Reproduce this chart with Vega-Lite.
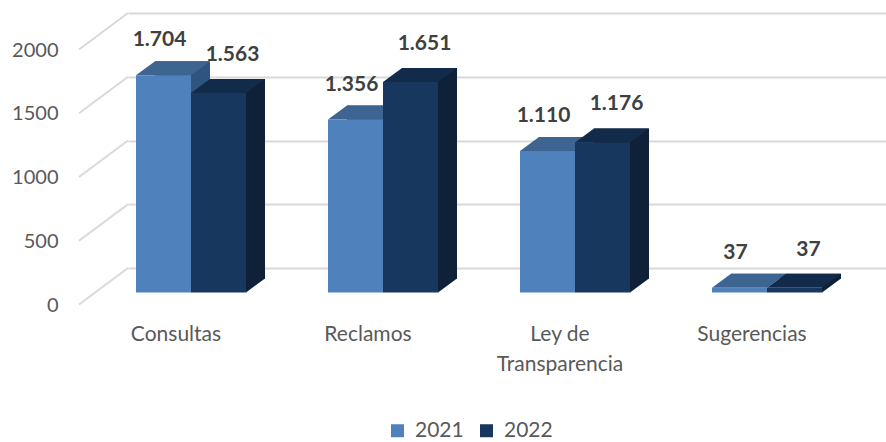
{
  "$schema": "https://vega.github.io/schema/vega-lite/v6.json",
  "width": 758,
  "height": 255,
  "autosize": {"type": "none"},
  "padding": {"left": 128, "top": 13, "right": 0, "bottom": 174},
  "background": "white",
  "config": {
    "view": {"stroke": null},
    "font": "Lato",
    "locale": {"number": {"decimal": ",", "thousands": ".", "grouping": [3], "currency": ["$", ""]}},
    "axisX": {"domain": false, "ticks": false, "grid": false, "labelFontSize": 21, "labelColor": "#595959", "labelPadding": 55, "labelOffset": -15, "labelAngle": 0, "labelLineHeight": 30},
    "axisY": {"domain": false, "ticks": false, "grid": true, "gridColor": "#d9d9d9", "gridWidth": 2, "labelFontSize": 20, "labelColor": "#595959", "labelPadding": 70, "labelOffset": 37}
  },
  "datasets": {
    "bars": [
      {"cat": "Consultas", "year": "2021", "value": 1704},
      {"cat": "Consultas", "year": "2022", "value": 1563},
      {"cat": "Reclamos", "year": "2021", "value": 1356},
      {"cat": "Reclamos", "year": "2022", "value": 1651},
      {"cat": "Ley de Transparencia", "year": "2021", "value": 1110},
      {"cat": "Ley de Transparencia", "year": "2022", "value": 1176},
      {"cat": "Sugerencias", "year": "2021", "value": 37},
      {"cat": "Sugerencias", "year": "2022", "value": 37}
    ],
    "grid": [{"v": 0}, {"v": 500}, {"v": 1000}, {"v": 1500}, {"v": 2000}]
  },
  "data": {"name": "bars"},
  "layer": [
    {
      "data": {"name": "grid"},
      "mark": {"type": "rule", "color": "#d9d9d9", "strokeWidth": 2, "yOffset": 36.5},
      "encoding": {
        "x": {"value": -49},
        "x2": {"value": 0},
        "y": {"field": "v", "type": "quantitative", "title": null, "scale": {"domain": [0, 2000]}, "axis": {"values": [0, 500, 1000, 1500, 2000], "format": "d", "title": null}},
        "y2": {"field": "v"}
      }
    },
    {
      "transform": [{"filter": "datum.year == '2021'"}],
      "mark": {"type": "rect", "color": "#2f5480", "xOffset": 19, "x2Offset": 19, "yOffset": 10.4, "y2Offset": 10.4},
      "encoding": {
        "x": {"field": "cat", "type": "nominal", "sort": null, "bandPosition": 0, "title": null,
              "scale": {"domain": ["Consultas", "Reclamos", "Ley de Transparencia", "Sugerencias"], "paddingInner": 0.42708, "paddingOuter": 0.1875, "align": 0.1111},
              "axis": {"title": null, "labelExpr": "datum.value == 'Ley de Transparencia' ? ['Ley de', 'Transparencia'] : datum.value"}},
        "x2": {"field": "cat", "bandPosition": 0.5},
        "y": {"field": "value", "type": "quantitative", "title": null},
        "y2": {"datum": 0}
      }
    },
    {
      "transform": [{"filter": "datum.year == '2021'"}],
      "mark": {"type": "point", "shape": "M0,0 L55,0 L74,-14 L19,-14 Z", "size": 4, "filled": true, "opacity": 1, "strokeWidth": 0, "color": "#3e6591", "yOffset": 24.4},
      "encoding": {
        "x": {"field": "cat", "type": "nominal", "sort": null, "bandPosition": 0, "title": null},
        "y": {"field": "value", "type": "quantitative", "title": null}
      }
    },
    {
      "transform": [{"filter": "datum.year == '2021'"}],
      "mark": {"type": "rect", "yOffset": 24.4, "y2Offset": 24.4},
      "encoding": {
        "x": {"field": "cat", "type": "nominal", "sort": null, "bandPosition": 0, "title": null},
        "x2": {"field": "cat", "bandPosition": 0.5},
        "y": {"field": "value", "type": "quantitative", "title": null},
        "y2": {"datum": 0},
        "color": {"field": "year", "type": "nominal", "title": null,
                  "scale": {"domain": ["2021", "2022"], "range": ["#4f81bd", "#17375e"]},
                  "legend": {"orient": "none", "legendX": 259, "legendY": 407, "direction": "horizontal", "title": null, "symbolType": "square", "symbolSize": 169, "symbolStrokeWidth": 0, "labelFontSize": 21, "labelColor": "#595959", "columnPadding": 12, "labelOffset": 7, "padding": 0}}
      }
    },
    {
      "transform": [{"filter": "datum.year == '2022'"}],
      "mark": {"type": "rect", "color": "#0f2139", "xOffset": 19, "x2Offset": 19, "yOffset": 10.4, "y2Offset": 10.4},
      "encoding": {
        "x": {"field": "cat", "type": "nominal", "sort": null, "bandPosition": 0.5, "title": null},
        "x2": {"field": "cat", "bandPosition": 1},
        "y": {"field": "value", "type": "quantitative", "title": null},
        "y2": {"datum": 0}
      }
    },
    {
      "transform": [{"filter": "datum.year == '2022'"}],
      "mark": {"type": "point", "shape": "M0,-15.5 L0,0 L19,-14 L19,-15.5 Z", "size": 4, "filled": true, "opacity": 1, "strokeWidth": 0, "color": "#0f2139", "yOffset": 24.4},
      "encoding": {
        "x": {"field": "cat", "type": "nominal", "sort": null, "bandPosition": 1, "title": null},
        "y": {"datum": 0, "type": "quantitative"}
      }
    },
    {
      "transform": [{"filter": "datum.year == '2022'"}],
      "mark": {"type": "point", "shape": "M0,0 L55,0 L74,-14 L19,-14 Z", "size": 4, "filled": true, "opacity": 1, "strokeWidth": 0, "color": "#132b4b", "yOffset": 24.4},
      "encoding": {
        "x": {"field": "cat", "type": "nominal", "sort": null, "bandPosition": 0.5, "title": null},
        "y": {"field": "value", "type": "quantitative", "title": null}
      }
    },
    {
      "transform": [{"filter": "datum.year == '2022'"}],
      "mark": {"type": "rect", "yOffset": 24.4, "y2Offset": 24.4},
      "encoding": {
        "x": {"field": "cat", "type": "nominal", "sort": null, "bandPosition": 0.5, "title": null},
        "x2": {"field": "cat", "bandPosition": 1},
        "y": {"field": "value", "type": "quantitative", "title": null},
        "y2": {"datum": 0},
        "color": {"field": "year", "type": "nominal", "title": null}
      }
    },
    {
      "transform": [{"filter": "datum.year == '2021'"}],
      "mark": {"type": "text", "fontSize": 21, "fontWeight": "bold", "color": "#404040", "yOffset": 24.4, "dy": -35, "dx": -4, "baseline": "middle"},
      "encoding": {
        "x": {"field": "cat", "type": "nominal", "sort": null, "bandPosition": 0.25, "title": null},
        "y": {"field": "value", "type": "quantitative", "title": null},
        "text": {"field": "value", "type": "quantitative", "format": ",d"}
      }
    },
    {
      "transform": [{"filter": "datum.year == '2022'"}],
      "mark": {"type": "text", "fontSize": 21, "fontWeight": "bold", "color": "#404040", "yOffset": 24.4, "dy": -38, "dx": 14, "baseline": "middle"},
      "encoding": {
        "x": {"field": "cat", "type": "nominal", "sort": null, "bandPosition": 0.75, "title": null},
        "y": {"field": "value", "type": "quantitative", "title": null},
        "text": {"field": "value", "type": "quantitative", "format": ",d"}
      }
    }
  ]
}
